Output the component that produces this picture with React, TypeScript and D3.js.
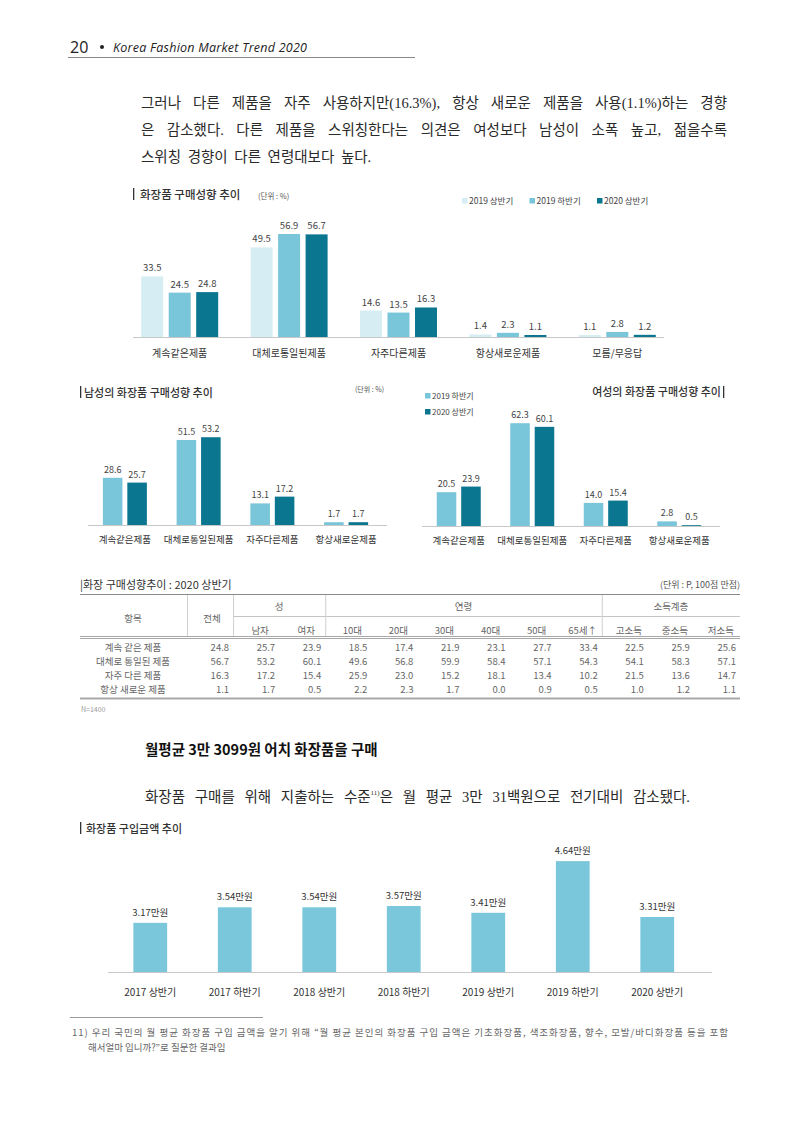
import React, { useEffect, useRef } from "react";
import * as d3 from "d3";

// 화장품 구매성향 (전체)
const typeCats = ["계속같은제품", "대체로통일된제품", "자주다른제품", "항상새로운제품", "모름/무응답"];
const periodKeys = ["2019 상반기", "2019 하반기", "2020 상반기"];
const h1of2019 = [33.5, 49.5, 14.6, 1.4, 1.1];
const h2of2019 = [24.5, 56.9, 13.5, 2.3, 2.8];
const h1of2020 = [24.8, 56.7, 16.3, 1.1, 1.2];

// 성별 구매성향
const genderCats = ["계속같은제품", "대체로통일된제품", "자주다른제품", "항상새로운제품"];
const genderKeys = ["2019 하반기", "2020 상반기"];
const men2019h2 = [28.6, 51.5, 13.1, 1.7];
const men2020h1 = [25.7, 53.2, 17.2, 1.7];
const women2019h2 = [20.5, 62.3, 14.0, 2.8];
const women2020h1 = [23.9, 60.1, 15.4, 0.5];

// 2020 상반기 표
const rowLabels = ["계속 같은 제품", "대체로 통일된 제품", "자주 다른 제품", "항상 새로운 제품"];
const colLabels = ["전체", "남자", "여자", "10대", "20대", "30대", "40대", "50대", "65세↑", "고소득", "중소득", "저소득"];
const tableRows = [
  [24.8, 25.7, 23.9, 18.5, 17.4, 21.9, 23.1, 27.7, 33.4, 22.5, 25.9, 25.6],
  [56.7, 53.2, 60.1, 49.6, 56.8, 59.9, 58.4, 57.1, 54.3, 54.1, 58.3, 57.1],
  [16.3, 17.2, 15.4, 25.9, 23.0, 15.2, 18.1, 13.4, 10.2, 21.5, 13.6, 14.7],
  [1.1, 1.7, 0.5, 2.2, 2.3, 1.7, 0.0, 0.9, 0.5, 1.0, 1.2, 1.1],
];
const groupHeads = [
  { label: "성", from: 1, to: 2 },
  { label: "연령", from: 3, to: 8 },
  { label: "소득계층", from: 9, to: 11 },
];

// 구입금액 (만원)
const spendPeriods = ["2017 상반기", "2017 하반기", "2018 상반기", "2018 하반기", "2019 상반기", "2019 하반기", "2020 상반기"];
const spendValues = [3.17, 3.54, 3.54, 3.57, 3.41, 4.64, 3.31];

const KR = "'Noto Sans CJK KR', 'Noto Sans', sans-serif";
const SERIF = "'Liberation Serif', 'DejaVu Serif', 'Noto Sans CJK KR', serif";
const LIGHT = "#d6edf4";
const MID = "#79c5d9";
const DARK = "#0b7690";

// spread a line to a given width by widening the gaps between words
function justify(t: d3.Selection<SVGTextElement, unknown, null, undefined>, width: number) {
  const node = t.node();
  if (!node) return;
  const natural = node.getComputedTextLength();
  const gaps = (node.textContent || "").split(" ").length - 1;
  if (gaps > 0 && natural < width) t.attr("word-spacing", (width - natural) / gaps);
}

export default function App() {
  const svgRef = useRef<SVGSVGElement>(null);

  useEffect(() => {
    const svg = d3.select(svgRef.current);
    svg.selectAll("*").remove();

    const txt = (x: number, y: number, s: string, size: number, opts: any = {}) => {
      const t = svg
        .append("text")
        .attr("x", x)
        .attr("y", y)
        .attr("font-family", opts.family || KR)
        .attr("font-size", size)
        .attr("fill", opts.fill || "#333")
        .attr("text-anchor", opts.anchor || "start")
        .text(s);
      if (opts.weight) t.attr("font-weight", opts.weight);
      if (opts.italic) t.attr("font-style", "italic");
      if (opts.len) t.attr("textLength", opts.len).attr("lengthAdjust", "spacing");
      return t;
    };
    const titleBar = (x: number, y: number) =>
      svg.append("rect").attr("x", x).attr("y", y).attr("width", 1.3).attr("height", 12).attr("fill", "#333");

    // page header
    txt(70, 53, "20", 16, { family: "'Open Sans', sans-serif", fill: "#222" });
    svg.append("circle").attr("cx", 102).attr("cy", 47).attr("r", 2).attr("fill", "#222");
    txt(113, 52, "Korea Fashion Market Trend 2020", 12.5, {
      family: "'Open Sans', sans-serif",
      italic: true,
      fill: "#222",
      len: 194,
    });
    svg.append("line").attr("x1", 68).attr("x2", 415).attr("y1", 57.5).attr("y2", 57.5).attr("stroke", "#888");

    // body text
    const para = [
      "그러나 다른 제품을 자주 사용하지만(16.3%), 항상 새로운 제품을 사용(1.1%)하는 경향",
      "은 감소했다. 다른 제품을 스위칭한다는 의견은 여성보다 남성이 소폭 높고, 젊을수록",
      "스위칭 경향이 다른 연령대보다 높다.",
    ];
    para.forEach((line, i) => {
      const t = txt(141, 108 + i * 27, line, 14.5, { family: SERIF, fill: "#2a2a2a" });
      if (i < 2) justify(t, 586);
      else t.attr("word-spacing", 3);
    });

    // ---- chart 1: 화장품 구매성향 추이
    titleBar(133, 188);
    txt(140, 199, "화장품 구매성향 추이", 11.5, { weight: 500 });
    txt(258, 199, "(단위 : %)", 7.5, { fill: "#555" });
    const colors1 = d3.scaleOrdinal<string, string>().domain(periodKeys).range([LIGHT, MID, DARK]);
    const legendX = d3.scalePoint().domain(periodKeys).range([462, 597]);
    periodKeys.forEach((k) => {
      svg.append("rect").attr("x", legendX(k)!).attr("y", 198).attr("width", 5.5).attr("height", 5.5).attr("fill", colors1(k));
      txt(legendX(k)! + 7, 204, k, 8.5, { fill: "#444" });
    });

    const x0 = d3.scaleBand().domain(typeCats).range([125, 672]);
    const x1 = d3.scaleBand().domain(periodKeys).range([-38.5, 38.5]).paddingInner(0.2);
    const y1 = d3.scaleLinear().domain([0, 60]).range([337, 228.4]);
    const series1 = [h1of2019, h2of2019, h1of2020];
    typeCats.forEach((c, i) => {
      const cx = x0(c)! + x0.bandwidth() / 2;
      periodKeys.forEach((k, j) => {
        const v = series1[j][i];
        const bx = cx + x1(k)!;
        svg.append("rect").attr("x", bx).attr("y", y1(v)).attr("width", x1.bandwidth()).attr("height", y1(0) - y1(v)).attr("fill", colors1(k));
        txt(bx + x1.bandwidth() / 2, y1(v) - 5, v.toFixed(1), 9.5, { anchor: "middle", fill: "#444" });
      });
      txt(cx, 357, c, 10, { anchor: "middle", fill: "#333" });
    });
    svg.append("line").attr("x1", 133).attr("x2", 664).attr("y1", 337.5).attr("y2", 337.5).attr("stroke", "#c8c8c8");

    // ---- chart 2/3: 남성 / 여성
    const colors2 = d3.scaleOrdinal<string, string>().domain(genderKeys).range([MID, DARK]);
    const xIn = d3.scaleBand().domain(genderKeys).range([-22, 22]).paddingInner(0.2);
    const drawPair = (range: [number, number], base: number, a: number[], b: number[]) => {
      const xo = d3.scaleBand().domain(genderCats).range(range);
      const yy = d3.scaleLinear().domain([0, 60]).range([base, base - 99]);
      const vals = [a, b];
      genderCats.forEach((c, i) => {
        const cx = xo(c)! + xo.bandwidth() / 2;
        genderKeys.forEach((k, j) => {
          const v = vals[j][i];
          const bx = cx + xIn(k)!;
          svg.append("rect").attr("x", bx).attr("y", yy(v)).attr("width", xIn.bandwidth()).attr("height", base - yy(v)).attr("fill", colors2(k));
          txt(bx + xIn.bandwidth() / 2, yy(v) - 5, v.toFixed(1), 9, { anchor: "middle", fill: "#444" });
        });
        txt(cx, base + 18, c, 9.5, { anchor: "middle", fill: "#333" });
      });
      svg.append("line").attr("x1", range[0]).attr("x2", range[1] + 4).attr("y1", base + 0.5).attr("y2", base + 0.5).attr("stroke", "#c8c8c8");
    };

    titleBar(80, 386);
    txt(84, 397, "남성의 화장품 구매성향 추이", 11, { weight: 500 });
    txt(355, 392, "(단위 : %)", 7, { fill: "#555" });
    drawPair([88, 383], 525, men2019h2, men2020h1);

    txt(721, 396, "여성의 화장품 구매성향 추이", 11, { weight: 500, anchor: "end" });
    titleBar(723, 386);
    genderKeys.forEach((k, j) => {
      svg.append("rect").attr("x", 425).attr("y", 393 + j * 16).attr("width", 5.5).attr("height", 5.5).attr("fill", colors2(k));
      txt(432, 399 + j * 16, k, 8, { fill: "#444" });
    });
    drawPair([422, 716], 526, women2019h2, women2020h1);

    // ---- table
    txt(80, 589, "|화장 구매성향추이 : 2020 상반기", 11, { fill: "#333" });
    txt(740, 588, "(단위 : P, 100점 만점)", 9, { anchor: "end", fill: "#555" });
    const cx = d3.scaleBand().domain(colLabels).range([187, 740]);
    const rowY = d3.scaleBand().domain(rowLabels).range([640, 696]);
    const hline = (x1: number, x2: number, y: number, c: string, w = 1) =>
      svg.append("line").attr("x1", x1).attr("x2", x2).attr("y1", y).attr("y2", y).attr("stroke", c).attr("stroke-width", w);
    hline(80, 740, 594.5, "#8a8a8a");
    hline(cx(colLabels[1])!, 740, 616.5, "#c4c4c4");
    hline(80, 740, 636.5, "#a8a8a8");
    hline(80, 740, 638.5, "#a8a8a8");
    hline(80, 740, 698.5, "#a8a8a8", 2);
    [colLabels[0], colLabels[1], colLabels[3], colLabels[9]].forEach((c) =>
      svg.append("line").attr("x1", cx(c)! + 0.5).attr("x2", cx(c)! + 0.5).attr("y1", 595).attr("y2", 636).attr("stroke", "#cfcfcf")
    );
    const tc = "#666";
    txt(133, 622, "항목", 9.5, { anchor: "middle", fill: tc });
    txt(cx("전체")! + cx.bandwidth() / 2 + 2, 622, "전체", 9.5, { anchor: "middle", fill: tc });
    groupHeads.forEach((g) => {
      const a = cx(colLabels[g.from])!;
      const b = cx(colLabels[g.to])! + cx.bandwidth();
      txt((a + b) / 2, 610, g.label, 9.5, { anchor: "middle", fill: tc });
    });
    colLabels.slice(1).forEach((c) => txt(cx(c)! + cx.bandwidth() / 2 + 4, 634, c, 9.5, { anchor: "middle", fill: tc }));
    rowLabels.forEach((r, i) => {
      const yy = rowY(r)! + rowY.bandwidth() / 2 + 3.5;
      txt(133, yy, r, 9.5, { anchor: "middle", fill: tc });
      tableRows[i].forEach((v, j) => txt(cx(colLabels[j])! + cx.bandwidth() - 4, yy, v.toFixed(1), 9.5, { anchor: "end", fill: tc }));
    });
    txt(81, 712, "N=1400", 7, { fill: "#999" });

    // ---- section heading + text
    txt(145, 755, "월평균 3만 3099원 어치 화장품을 구매", 14.5, { weight: 700, fill: "#111" });
    const lead = svg
      .append("text")
      .attr("x", 145)
      .attr("y", 802)
      .attr("font-family", SERIF)
      .attr("font-size", 14.5)
      .attr("fill", "#2a2a2a");
    lead.append("tspan").text("화장품 구매를 위해 지출하는 수준");
    lead.append("tspan").attr("dy", -7).attr("font-size", 7).text("11)");
    lead.append("tspan").attr("dy", 7).text("은 월 평균 3만 31백원으로 전기대비 감소됐다.");
    justify(lead, 545);

    // ---- chart 4: 화장품 구입금액 추이
    titleBar(80, 822);
    txt(86, 833, "화장품 구입금액 추이", 11, { weight: 500 });
    const xs = d3.scaleBand().domain(spendPeriods).range([108, 699.5]).paddingInner(0.6).paddingOuter(0.3);
    const ys = d3.scaleLinear().domain([2, 5]).range([972, 846]);
    spendPeriods.forEach((p, i) => {
      const v = spendValues[i];
      svg.append("rect").attr("x", xs(p)!).attr("y", ys(v)).attr("width", xs.bandwidth()).attr("height", ys(2) - ys(v)).attr("fill", "#7ac6da");
      txt(xs(p)! + xs.bandwidth() / 2, ys(v) - 7, `${v.toFixed(2)}만원`, 9.5, { anchor: "middle", fill: "#333" });
      txt(xs(p)! + xs.bandwidth() / 2, 996, p, 10, { anchor: "middle", fill: "#333" });
    });
    svg.append("line").attr("x1", 108).attr("x2", 712).attr("y1", 972.5).attr("y2", 972.5).attr("stroke", "#c8c8c8");

    // footnote
    svg.append("line").attr("x1", 70).attr("x2", 263).attr("y1", 1017.5).attr("y2", 1017.5).attr("stroke", "#999");
    txt(72, 1036, "11) 우리 국민의 월 평균 화장품 구입 금액을 알기 위해 “월 평균 본인의 화장품 구입 금액은 기초화장품, 색조화장품, 향수, 모발/바디화장품 등을 포함", 9.5, {
      fill: "#666",
      len: 656,
    });
    txt(88, 1051, "해서얼마 입니까?”로 질문한 결과임", 9.5, { fill: "#666" });
  }, []);

  return (
    <svg
      ref={svgRef}
      width={800}
      height={1131}
      style={{ position: "absolute", left: 0, top: 0, background: "#fff" }}
    />
  );
}
